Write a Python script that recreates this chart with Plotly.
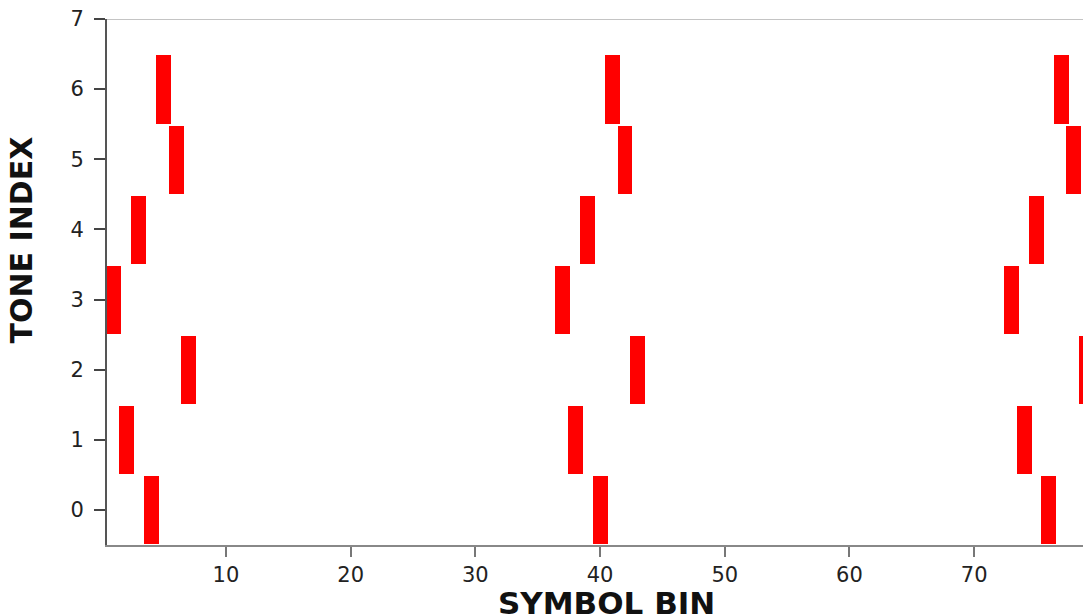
import plotly.graph_objects as go

symbol_bins = [1, 2, 3, 4, 5, 6, 7,
               37, 38, 39, 40, 41, 42, 43,
               73, 74, 75, 76, 77, 78, 79]
tone_index = [3, 1, 4, 0, 6, 5, 2,
              3, 1, 4, 0, 6, 5, 2,
              3, 1, 4, 0, 6, 5, 2]
x_ticks = [10, 20, 30, 40, 50, 60, 70]
y_ticks = [0, 1, 2, 3, 4, 5, 6, 7]

bar_h = 0.97
fig = go.Figure()
fig.add_trace(go.Bar(
    x=symbol_bins,
    y=[bar_h] * len(symbol_bins),
    base=[t - 0.49 for t in tone_index],
    width=1.2,
    marker=dict(color="#ff0000", line=dict(width=0)),
    showlegend=False,
))

fig.add_shape(type="line", xref="paper", yref="y", x0=0, x1=1, y0=7, y1=7,
              line=dict(color="#c4c4c4", width=2), layer="above")

fig.add_annotation(
    text="<b>TONE INDEX</b>", textangle=-90,
    xref="paper", yref="paper", x=-0.0875, y=0.58,
    xanchor="center", yanchor="middle", showarrow=False,
    font=dict(size=30, family="DejaVu Sans", color="#111111"),
)
fig.add_annotation(
    text="<b>SYMBOL BIN</b>",
    xref="paper", yref="paper", x=0.512, y=-0.110,
    xanchor="center", yanchor="middle", showarrow=False,
    font=dict(size=31, family="DejaVu Sans", color="#111111"),
)

fig.update_layout(
    width=1083, height=614,
    margin=dict(l=107, r=0, t=19, b=69, autoexpand=False),
    plot_bgcolor="white", paper_bgcolor="white",
    font=dict(family="DejaVu Sans", color="#222222"),
    bargap=0,
)
fig.update_xaxes(
    range=[0.46, 78.73], tickvals=x_ticks, ticks="outside", ticklen=10,
    tickcolor="#777777", tickwidth=2, automargin=False,
    showline=True, linecolor="#888888", linewidth=2,
    showgrid=False, zeroline=False,
    tickfont=dict(size=21, family="DejaVu Sans", color="#222222"),
)
fig.update_yaxes(
    range=[-0.5, 7], tickvals=y_ticks, ticks="outside", ticklen=11,
    tickcolor="#444444", tickwidth=2, ticklabelstandoff=6, automargin=False,
    showline=True, linecolor="#555555", linewidth=2,
    showgrid=False, zeroline=False,
    tickfont=dict(size=21, family="DejaVu Sans", color="#222222"),
)

fig.write_html("out.html")
